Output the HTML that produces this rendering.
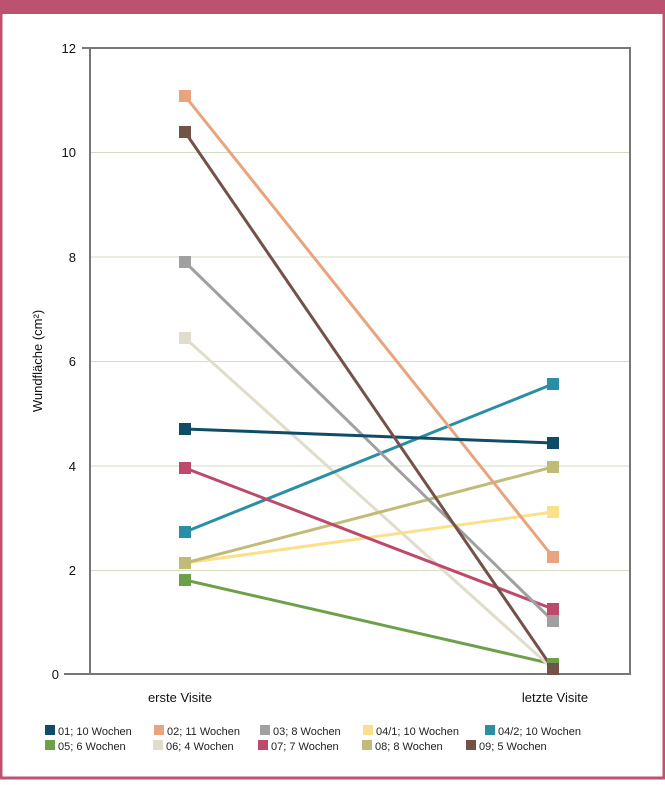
<!DOCTYPE html>
<html><head><meta charset="utf-8"><style>
body{margin:0;background:#fff;}
svg text{font-family:"Liberation Sans",sans-serif;}
</style></head><body>
<svg width="665" height="780" viewBox="0 0 665 780" xmlns="http://www.w3.org/2000/svg">
<rect x="0" y="0" width="665" height="780" fill="#fff"/>
<rect x="1" y="1" width="663" height="777" fill="none" stroke="#c0516f" stroke-width="3"/>
<rect x="0" y="0" width="665" height="14" fill="#bd5170"/>
<g stroke="#d4dcc4" stroke-width="1">
<line x1="90" y1="152.5" x2="630" y2="152.5"/>
<line x1="90" y1="257" x2="630" y2="257"/>
<line x1="90" y1="361.5" x2="630" y2="361.5"/>
<line x1="90" y1="466" x2="630" y2="466"/>
<line x1="90" y1="570.5" x2="630" y2="570.5"/>
</g>
<g stroke="#777" stroke-width="2" fill="none">
<polyline points="82,48 630,48 630,674 64,674"/>
<line x1="90" y1="48" x2="90" y2="674"/>
</g>
<g font-size="13" text-anchor="end" fill="#111">
<text x="76" y="53">12</text><text x="76" y="157">10</text><text x="76" y="262">8</text>
<text x="76" y="366">6</text><text x="76" y="471">4</text><text x="76" y="575">2</text><text x="59" y="679">0</text>
</g>
<text transform="translate(42,361) rotate(-90)" font-size="13" text-anchor="middle" fill="#111">Wundfläche (cm²)</text>
<text x="180" y="702" font-size="13" text-anchor="middle" fill="#111">erste Visite</text>
<text x="555" y="702" font-size="13" text-anchor="middle" fill="#111">letzte Visite</text>
<g stroke-width="3">
<line x1="185" y1="580" x2="553" y2="664" stroke="#6ea04c"/>
<line x1="185" y1="338" x2="553" y2="669" stroke="#e2dccc"/>
<line x1="185" y1="563" x2="553" y2="512" stroke="#fbe08c"/>
<line x1="185" y1="563" x2="553" y2="467" stroke="#c0bb78"/>
<line x1="185" y1="532" x2="553" y2="384" stroke="#2a8fa5"/>
<line x1="185" y1="468" x2="553" y2="609" stroke="#bd4a6a"/>
<line x1="185" y1="262" x2="553" y2="621" stroke="#a0a0a0"/>
<line x1="185" y1="96" x2="553" y2="557" stroke="#e8a47e"/>
<line x1="185" y1="429" x2="553" y2="443" stroke="#0f4d66"/>
<line x1="185" y1="132" x2="553" y2="669" stroke="#735248"/>
</g>
<g>
<rect x="179" y="574" width="12" height="12" fill="#6ea04c"/><rect x="547" y="658" width="12" height="12" fill="#6ea04c"/>
<rect x="179" y="332" width="12" height="12" fill="#e2dccc"/>
<rect x="179" y="557" width="12" height="12" fill="#fbe08c"/><rect x="547" y="506" width="12" height="12" fill="#fbe08c"/>
<rect x="179" y="557" width="12" height="12" fill="#c0bb78"/><rect x="547" y="461" width="12" height="12" fill="#c0bb78"/>
<rect x="179" y="526" width="12" height="12" fill="#2a8fa5"/><rect x="547" y="378" width="12" height="12" fill="#2a8fa5"/>
<rect x="179" y="462" width="12" height="12" fill="#bd4a6a"/><rect x="547" y="603" width="12" height="12" fill="#bd4a6a"/>
<rect x="179" y="256" width="12" height="12" fill="#a0a0a0"/><rect x="547" y="615" width="12" height="12" fill="#a0a0a0"/>
<rect x="179" y="90" width="12" height="12" fill="#e8a47e"/><rect x="547" y="551" width="12" height="12" fill="#e8a47e"/>
<rect x="179" y="423" width="12" height="12" fill="#0f4d66"/><rect x="547" y="437" width="12" height="12" fill="#0f4d66"/>
<rect x="179" y="126" width="12" height="12" fill="#735248"/><rect x="547" y="663" width="12" height="12" fill="#735248"/>
</g>
<g font-size="11" fill="#222">
<rect x="45" y="725" width="10" height="10" fill="#0f4d66"/><text x="58" y="735">01; 10 Wochen</text>
<rect x="154" y="725" width="10" height="10" fill="#e8a47e"/><text x="167" y="735">02; 11 Wochen</text>
<rect x="260" y="725" width="10" height="10" fill="#a0a0a0"/><text x="273" y="735">03; 8 Wochen</text>
<rect x="363" y="725" width="10" height="10" fill="#fbe08c"/><text x="376" y="735">04/1; 10 Wochen</text>
<rect x="485" y="725" width="10" height="10" fill="#2a8fa5"/><text x="498" y="735">04/2; 10 Wochen</text>
<rect x="45" y="740" width="10" height="10" fill="#6ea04c"/><text x="58" y="750">05; 6 Wochen</text>
<rect x="153" y="740" width="10" height="10" fill="#e2dccc"/><text x="166" y="750">06; 4 Wochen</text>
<rect x="258" y="740" width="10" height="10" fill="#bd4a6a"/><text x="271" y="750">07; 7 Wochen</text>
<rect x="362" y="740" width="10" height="10" fill="#c0bb78"/><text x="375" y="750">08; 8 Wochen</text>
<rect x="466" y="740" width="10" height="10" fill="#735248"/><text x="479" y="750">09; 5 Wochen</text>
</g>
</svg>
</body></html>
